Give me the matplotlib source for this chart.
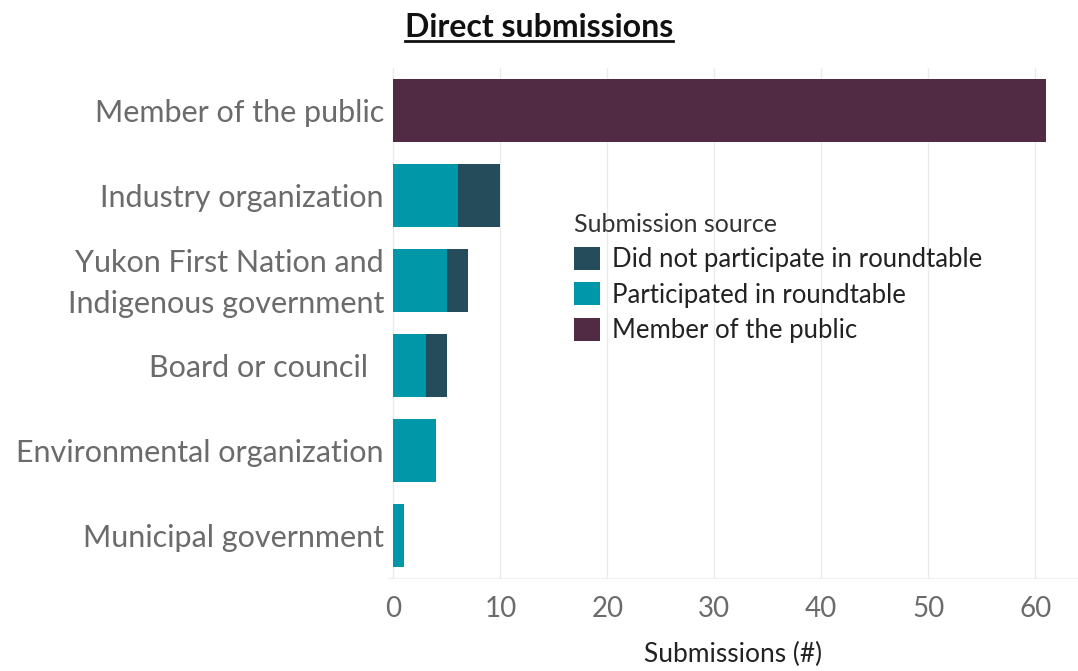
import matplotlib
matplotlib.use("Agg")
import matplotlib.pyplot as plt
from matplotlib.lines import Line2D
from matplotlib.transforms import ScaledTranslation
import numpy as np

# --- data ---
categories = [
    "Member of the public",
    "Industry organization",
    "Yukon First Nation and\nIndigenous government",
    "Board or council  ",
    "Environmental organization",
    "Municipal government",
]
participated = [0, 6, 5, 3, 4, 1]
not_participated = [0, 4, 2, 2, 0, 0]
public = [61, 0, 0, 0, 0, 0]
x_ticks = [0, 10, 20, 30, 40, 50, 60]

COL_NOT = "#244C5A"
COL_PART = "#0097A9"
COL_PUB = "#512A44"
GREY = "#6b6b6b"

plt.rcParams["font.family"] = ["Lato", "DejaVu Sans"]

fig = plt.figure(figsize=(10.78, 6.71), dpi=100)
ax = fig.add_axes([0.36, 0.1386, 0.64, 0.760])

y = np.arange(len(categories))
h = 0.75
part = np.array(participated)
notp = np.array(not_participated)
pub = np.array(public)

ax.barh(y, pub, height=h, color=COL_PUB, label="Member of the public", zorder=3)
ax.barh(y, part, height=h, color=COL_PART, label="Participated in roundtable", zorder=3)
ax.barh(y, notp, left=part, height=h, color=COL_NOT,
        label="Did not participate in roundtable", zorder=3)

ax.set_ylim(5.5, -0.5)
ax.set_xlim(-0.5, 64)
ax.set_xticks(x_ticks)
ax.set_yticks(y)
ax.set_yticklabels(categories, fontsize=22, color=GREY, linespacing=1.55)
ax.tick_params(axis="x", labelsize=20, labelcolor=GREY, length=0, pad=13)
ax.tick_params(axis="y", length=0, pad=3)

# the two-line label sits a little higher in the reference
lbl = ax.get_yticklabels()[2]
lbl.set_transform(lbl.get_transform() + ScaledTranslation(0, 6 / 100, fig.dpi_scale_trans))

ax.grid(axis="x", color="#ebebeb", linewidth=1, zorder=0)
for s in ["top", "right", "left"]:
    ax.spines[s].set_visible(False)
ax.spines["bottom"].set_color("#f0f0f0")

ax.set_xlabel("Submissions (#)", fontsize=19, color="#222222", labelpad=14)

handles, labels = ax.get_legend_handles_labels()
order = [2, 1, 0]
leg = ax.legend([handles[i] for i in order], [labels[i] for i in order],
                title="Submission source", loc="upper left",
                bbox_to_anchor=(0.255, 0.735), frameon=False,
                fontsize=18.5, title_fontsize=18, handlelength=1.0, handleheight=1.0,
                handletextpad=0.45, labelspacing=0.4, borderaxespad=0)
leg._legend_box.align = "left"
for t in leg.get_texts():
    t.set_color("#222222")
leg.get_title().set_color("#333333")

title = fig.text(0.5, 0.945, "Direct submissions", ha="center", va="baseline",
                 fontsize=23, fontweight="bold", color="#111111")

fig.canvas.draw()
bb = title.get_window_extent().transformed(fig.transFigure.inverted())
uy = 0.945 - 0.006
fig.add_artist(Line2D([bb.x0, bb.x1], [uy, uy], transform=fig.transFigure,
                      color="#111111", linewidth=2))

fig.savefig("out.png", dpi=100)
